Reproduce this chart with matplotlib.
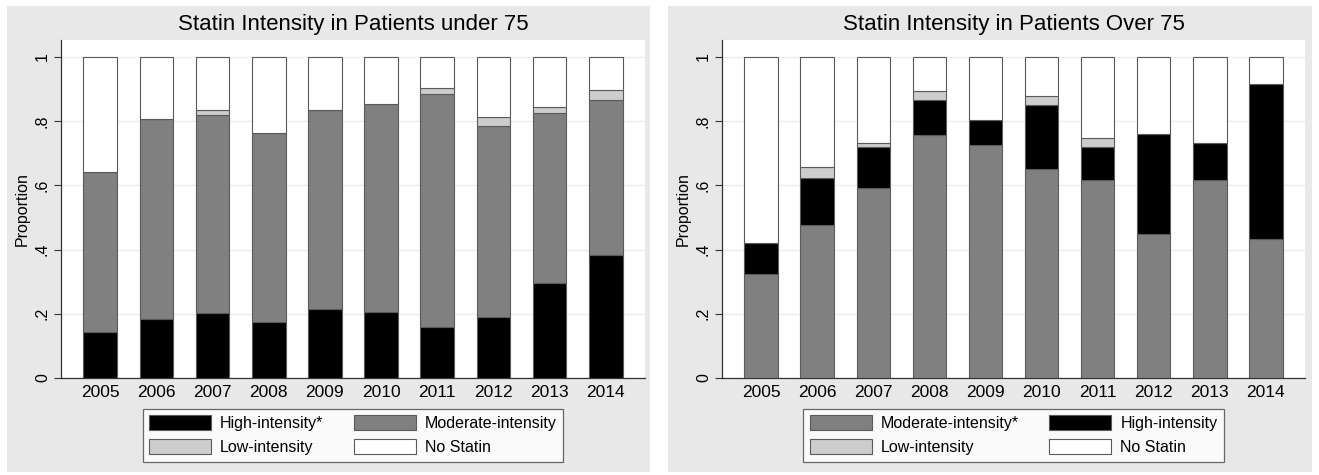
import matplotlib.pyplot as plt
from matplotlib.patches import Rectangle

plt.rcParams['font.family'] = ['Liberation Sans', 'DejaVu Sans']

years = ['2005', '2006', '2007', '2008', '2009', '2010', '2011', '2012', '2013', '2014']
y_ticks = [0, 0.2, 0.4, 0.6, 0.8, 1.0]
y_tick_labels = ['0', '.2', '.4', '.6', '.8', '1']

# Patients under 75 (proportions)
under_high = [0.142, 0.183, 0.201, 0.175, 0.216, 0.207, 0.158, 0.191, 0.297, 0.382]
under_moderate = [0.501, 0.625, 0.617, 0.588, 0.618, 0.648, 0.727, 0.594, 0.529, 0.483]
under_low = [0.0, 0.0, 0.017, 0.0, 0.0, 0.0, 0.018, 0.027, 0.017, 0.032]

# Patients over 75 (proportions)
over_moderate = [0.323, 0.476, 0.592, 0.757, 0.726, 0.652, 0.616, 0.448, 0.616, 0.434]
over_high = [0.097, 0.148, 0.127, 0.110, 0.078, 0.200, 0.105, 0.313, 0.116, 0.483]
over_low = [0.0, 0.034, 0.012, 0.027, 0.0, 0.027, 0.026, 0.0, 0.0, 0.0]

BLACK = '#000000'
GREY = '#808080'
LIGHT = '#cdcdcd'
WHITE = '#ffffff'
EDGE = '#5a5a5a'
PANEL = '#e8e8e8'

W, H = 1319, 475
fig = plt.figure(figsize=(W / 100, H / 100), dpi=100)
fig.patch.set_facecolor('white')

# grey panel backgrounds (pixel coords -> figure fraction)
for x0, x1 in [(7, 650), (668, 1312)]:
    fig.patches.append(Rectangle((x0 / W, 3 / H), (x1 - x0) / W, (469 - 3) / H,
                                 transform=fig.transFigure, facecolor=PANEL,
                                 edgecolor='none', zorder=-10))


def draw_panel(ax, title, layers, legend_order):
    x = range(len(years))
    bottom = [0.0] * len(years)
    handles = {}
    for name, vals, color in layers:
        b = ax.bar(x, vals, width=0.6, bottom=bottom, color=color,
                   edgecolor=EDGE, linewidth=0.8, label=name, zorder=3)
        handles[name] = b
        bottom = [bt + v for bt, v in zip(bottom, vals)]
    # remainder is "No Statin"
    rest = [1.0 - bt for bt in bottom]
    b = ax.bar(x, rest, width=0.6, bottom=bottom, color=WHITE,
               edgecolor=EDGE, linewidth=0.8, label='No Statin', zorder=3)
    handles['No Statin'] = b

    ax.set_xlim(-0.7, 9.7)
    ax.set_ylim(0, 1.053)
    ax.set_xticks(list(x))
    ax.set_xticklabels(years, fontsize=12.5)
    ax.tick_params(axis='x', length=0, pad=5)
    ax.set_yticks(y_ticks)
    ax.set_yticklabels(y_tick_labels, fontsize=11.5, rotation=90, va='center')
    ax.tick_params(axis='y', length=5, width=0.8, color='#333333', pad=3)
    ax.set_ylabel('Proportion', fontsize=11.5, labelpad=4)
    ax.set_title(title, fontsize=16, pad=7)
    ax.grid(axis='y', color='#ececec', linewidth=1, zorder=0)
    for s in ['top', 'right']:
        ax.spines[s].set_visible(False)
    for s in ['left', 'bottom']:
        ax.spines[s].set_color('#333333')
        ax.spines[s].set_linewidth(0.9)

    leg = ax.legend([handles[n] for n in legend_order],
                    [n for n in legend_order], ncol=2, loc='upper center',
                    bbox_to_anchor=(0.5, -0.092), fontsize=11.5, frameon=True,
                    fancybox=False, edgecolor='#444444', handlelength=3.9,
                    handleheight=1.05, handletextpad=0.55, columnspacing=1.9,
                    labelspacing=0.5, borderpad=0.4, borderaxespad=0)
    leg.get_frame().set_linewidth(0.9)


ax1 = fig.add_axes([61 / W, (H - 378) / H, 584 / W, 338 / H])
draw_panel(ax1, 'Statin Intensity in Patients under 75',
           [('High-intensity*', under_high, BLACK),
            ('Moderate-intensity', under_moderate, GREY),
            ('Low-intensity', under_low, LIGHT)],
           ['High-intensity*', 'Low-intensity', 'Moderate-intensity', 'No Statin'])

ax2 = fig.add_axes([722 / W, (H - 378) / H, 583 / W, 338 / H])
draw_panel(ax2, 'Statin Intensity in Patients Over 75',
           [('Moderate-intensity*', over_moderate, GREY),
            ('High-intensity', over_high, BLACK),
            ('Low-intensity', over_low, LIGHT)],
           ['Moderate-intensity*', 'Low-intensity', 'High-intensity', 'No Statin'])

fig.savefig('out.png', dpi=100)
